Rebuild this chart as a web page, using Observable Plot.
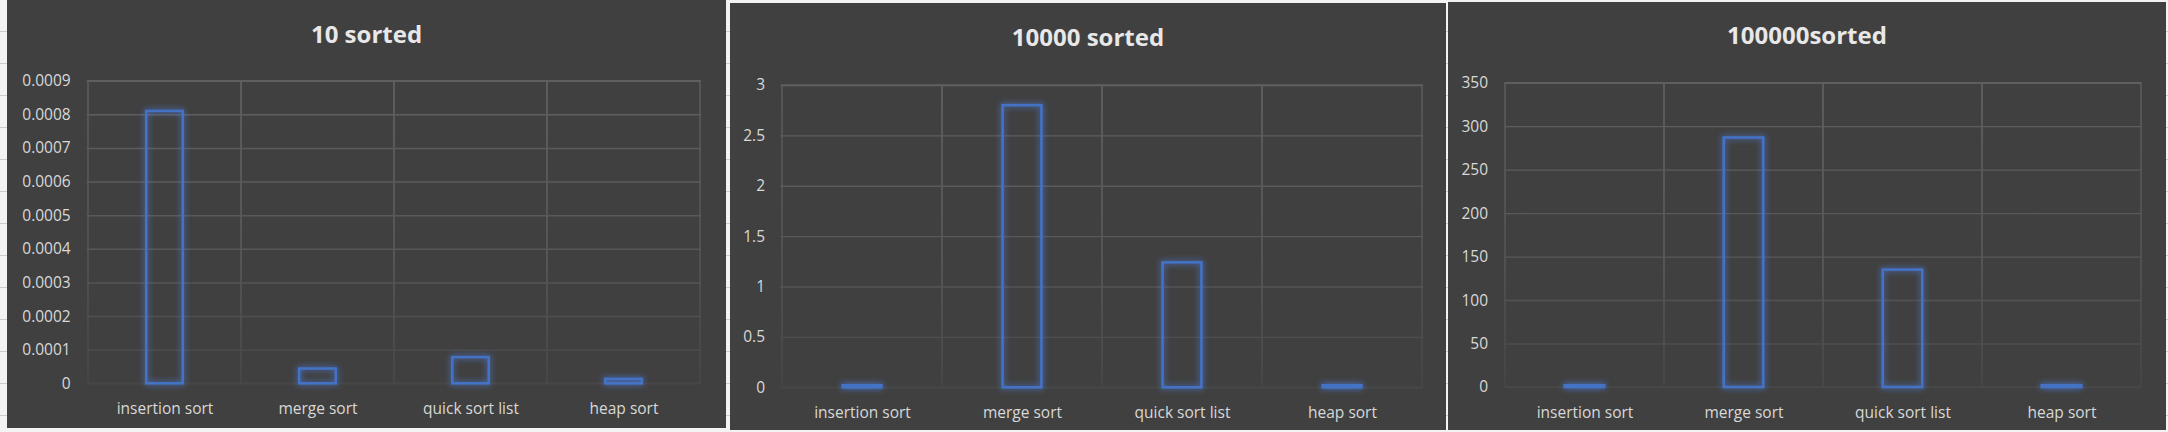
<!DOCTYPE html>
<html><head><meta charset="utf-8">
<script src="https://cdn.jsdelivr.net/npm/d3@7"></script>
<script src="https://cdn.jsdelivr.net/npm/@observablehq/plot@0.6"></script>
<style>
html,body{margin:0;padding:0;}
body{width:2168px;height:432px;position:relative;overflow:hidden;background:#f3f3f3;
 background-image: repeating-linear-gradient(to bottom, transparent 0 31px, #cdcdcd 31px 32px);}
.panel{position:absolute;background:#404040;font-family:"Open Sans",sans-serif;}
.title{height:60px;box-sizing:border-box;text-align:center;color:#e8e8e8;font-weight:700;font-size:24px;line-height:24px;white-space:nowrap;}
.panel svg{display:block;}
</style></head><body>
<script>
// ---- data ----
const categories = ["insertion sort", "merge sort", "quick sort list", "heap sort"];
const titles = ["10 sorted", "10000 sorted", "100000sorted"];
const values10 = [0.00081, 0.000044, 0.000078, 0.000013];
const values10000 = [0.02, 2.80, 1.24, 0.02];
const values100000 = [2, 287, 135, 2];
const yTicks10 = [0, 0.0001, 0.0002, 0.0003, 0.0004, 0.0005, 0.0006, 0.0007, 0.0008, 0.0009];
const yTickLabels10 = ["0", "0.0001", "0.0002", "0.0003", "0.0004", "0.0005", "0.0006", "0.0007", "0.0008", "0.0009"];
const yTicks10000 = [0, 0.5, 1, 1.5, 2, 2.5, 3];
const yTickLabels10000 = ["0", "0.5", "1", "1.5", "2", "2.5", "3"];
const yTicks100000 = [0, 50, 100, 150, 200, 250, 300, 350];
const yTickLabels100000 = ["0", "50", "100", "150", "200", "250", "300", "350"];

// ---- layout ----
const layouts = [
  {left: 7, top: 0, w: 719, h: 428, titlePad: 21.6, ml: 79.7, mr: 25.3, mt: 20.7, mb: 44.7, barW: 37, ypad: 16.5},
  {left: 730, top: 3, w: 716, h: 427, titlePad: 21.6, ml: 50.5, mr: 22.8, mt: 22, mb: 42.7, barW: 39.5, ypad: 16},
  {left: 1448, top: 2, w: 718, h: 428, titlePad: 21.3, ml: 57, mr: 25, mt: 20.7, mb: 43, barW: 39.5, ypad: 17.5}
];
const series = [values10, values10000, values100000];
const tickSets = [yTicks10, yTicks10000, yTicks100000];
const labelSets = [yTickLabels10, yTickLabels10000, yTickLabels100000];

const gridColor = "#5a5a5a";
const barColor = "#4472c4";

layouts.forEach((cfg, idx) => {
  const div = document.createElement("div");
  div.className = "panel";
  Object.assign(div.style, {left: cfg.left + "px", top: cfg.top + "px", width: cfg.w + "px", height: cfg.h + "px"});
  const t = document.createElement("div");
  t.className = "title";
  t.style.paddingTop = cfg.titlePad + "px";
  t.textContent = titles[idx];
  div.appendChild(t);

  const values = series[idx], ticks = tickSets[idx], labels = labelSets[idx];
  const data = categories.map((c, i) => ({category: c, value: values[i]}));
  const labelMap = new Map(ticks.map((v, i) => [v, labels[i]]));
  const W = cfg.w, H = cfg.h - 60;
  const band = (W - cfg.ml - cfg.mr) / categories.length;
  const inset = (band - cfg.barW) / 2;
  const yMax = ticks[ticks.length - 1];

  const svg = Plot.plot({
    width: W, height: H,
    marginLeft: cfg.ml, marginRight: cfg.mr, marginTop: cfg.mt, marginBottom: cfg.mb,
    style: {background: "transparent", color: "#d8d8d8", fontFamily: '"Open Sans", sans-serif', fontSize: "15.5px", overflow: "visible"},
    x: {domain: categories, padding: 0},
    y: {domain: [0, yMax]},
    marks: [
      Plot.ruleY(ticks, {stroke: gridColor, strokeWidth: 1.4}),
      Plot.barY(categories, {x: d => d, y1: 0, y2: yMax, fill: "none", stroke: gridColor, strokeWidth: 1.4}),
      Plot.barY(data, {x: "category", y1: 0, y2: "value", fill: "none", stroke: barColor, strokeWidth: 2.6, insetLeft: inset, insetRight: inset}),
      Plot.axisY({ticks, tickFormat: d => labelMap.get(d), tickSize: 0, tickPadding: cfg.ypad, fontSize: 15.5, label: null}),
      Plot.axisX({tickSize: 0, tickPadding: 19.5, fontSize: 15.5, label: null})
    ]
  });

  const ns = "http://www.w3.org/2000/svg";
  const defs = document.createElementNS(ns, "defs");
  defs.innerHTML = `<linearGradient id="fade${idx}" gradientUnits="userSpaceOnUse" x1="0" y1="${cfg.mt}" x2="0" y2="${H - cfg.mb}">
    <stop offset="0" stop-color="#5f5f5f"/><stop offset="0.6" stop-color="#575757"/><stop offset="1" stop-color="#474747"/></linearGradient>`;
  svg.insertBefore(defs, svg.firstChild);
  svg.querySelectorAll(`[stroke="${gridColor}"]`).forEach(el => el.setAttribute("stroke", `url(#fade${idx})`));
  svg.querySelectorAll(`[stroke="${barColor}"]`).forEach(el => el.style.filter = "drop-shadow(0 0 3px rgba(80,130,235,0.9))");
  div.appendChild(svg);
  document.body.appendChild(div);
});
</script>
</body></html>
